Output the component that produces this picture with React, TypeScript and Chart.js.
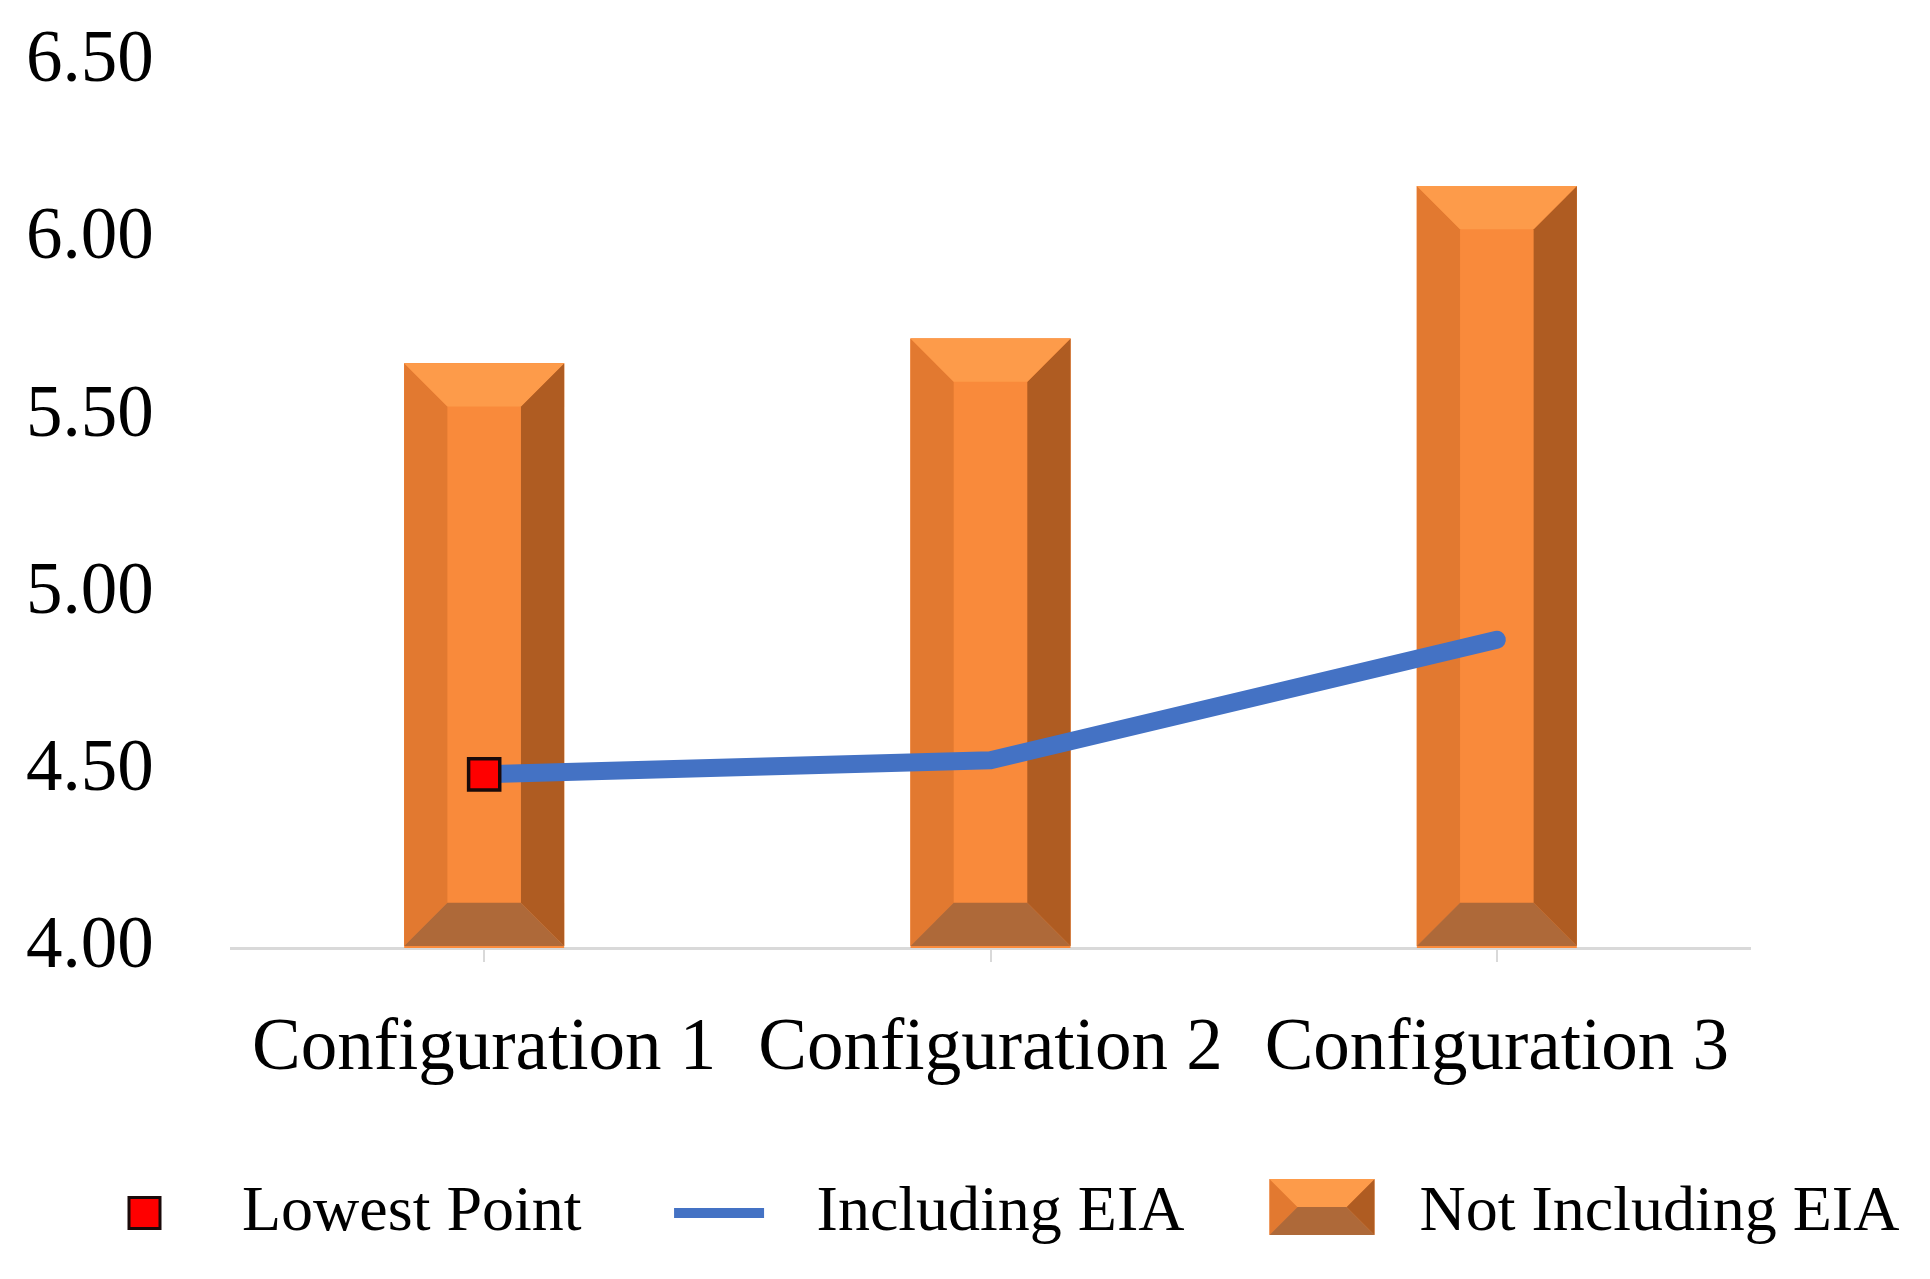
import React, { useEffect, useRef } from "react";
import { Chart, registerables } from "chart.js";

Chart.register(...registerables);

// ---- Data ----
const categories = ["Configuration 1", "Configuration 2", "Configuration 3"];
const notIncludingEIA = [5.65, 5.72, 6.15];
const includingEIA = [4.49, 4.53, 4.87];
const lowestPoint: (number | null)[] = [4.49, null, null];
const yTickValues = [4.0, 4.5, 5.0, 5.5, 6.0, 6.5];
const legendLabels = ["Lowest Point", "Including EIA", "Not Including EIA"];

// ---- Styles ----
const FONT = '"Liberation Serif", "Times New Roman", serif';
const BAR_CENTER = "#F98A3B";
const BAR_TOP = "#FD9B4A";
const BAR_LEFT = "#E27930";
const BAR_RIGHT = "#AF5C22";
const BAR_BOTTOM = "#AE6939";
const LINE_BLUE = "#4472C4";

function drawBevel(ctx: CanvasRenderingContext2D, L: number, T: number, R: number, B: number, b: number) {
  const poly = (pts: number[][], color: string) => {
    ctx.beginPath();
    ctx.moveTo(pts[0][0], pts[0][1]);
    for (let i = 1; i < pts.length; i++) ctx.lineTo(pts[i][0], pts[i][1]);
    ctx.closePath();
    ctx.fillStyle = color;
    ctx.fill();
  };
  const bh = Math.min(b, (B - T) / 2);
  poly([[L, T], [R, T], [R, B], [L, B]], BAR_CENTER);
  poly([[L, T], [L + b, T + bh], [L + b, B - bh], [L, B]], BAR_LEFT);
  poly([[R, T], [R, B], [R - b, B - bh], [R - b, T + bh]], BAR_RIGHT);
  poly([[L, T], [R, T], [R - b, T + bh], [L + b, T + bh]], BAR_TOP);
  poly([[L, B], [L + b, B - bh], [R - b, B - bh], [R, B]], BAR_BOTTOM);
}

const bevelPlugin = {
  id: "bevelBars",
  afterDatasetDraw(chart: any, args: any) {
    if (args.meta.type !== "bar") return;
    const ctx = chart.ctx as CanvasRenderingContext2D;
    const area = chart.chartArea;
    ctx.save();
    args.meta.data.forEach((el: any) => {
      const { x, y, base, width } = el.getProps(["x", "y", "base", "width"], true);
      const L = x - width / 2;
      const R = x + width / 2;
      const T = Math.max(Math.min(y, base), area.top);
      const B = Math.min(Math.max(y, base), area.bottom - 2);
      drawBevel(ctx, L, T, R, B, width * 0.27);
    });
    ctx.restore();
  },
};

const legendPlugin = {
  id: "customLegend",
  afterDraw(chart: any) {
    const ctx = chart.ctx as CanvasRenderingContext2D;
    ctx.save();
    ctx.font = `64px ${FONT}`;
    ctx.textBaseline = "middle";
    ctx.textAlign = "left";
    const cy = chart.height - 66;
    let x = 92;
    const slot = 105;
    legendLabels.forEach((label, i) => {
      const cx = x + slot / 2;
      if (i === 0) {
        const s = 31;
        ctx.fillStyle = "#FF0000";
        ctx.fillRect(cx - s / 2, cy - s / 2, s, s);
        ctx.lineWidth = 3;
        ctx.strokeStyle = "#1a0a0a";
        ctx.strokeRect(cx - s / 2, cy - s / 2, s, s);
      } else if (i === 1) {
        ctx.fillStyle = LINE_BLUE;
        ctx.fillRect(cx - 45, cy - 5, 90, 10);
      } else {
        drawBevel(ctx, cx - 52.5, cy - 34, cx + 52.5, cy + 22, 28);
      }
      const tx = x + slot + 45;
      ctx.fillStyle = "#000";
      ctx.fillText(label, tx, cy);
      x = tx + ctx.measureText(label).width + 85;
    });
    ctx.restore();
  },
};

export default function App() {
  const canvasRef = useRef<HTMLCanvasElement | null>(null);

  useEffect(() => {
    if (!canvasRef.current) return;
    const chart = new Chart(canvasRef.current, {
      data: {
        labels: categories,
        datasets: [
          {
            type: "line",
            label: legendLabels[0],
            data: lowestPoint,
            showLine: false,
            pointStyle: "rect",
            pointRadius: 22,
            pointBackgroundColor: "#FF0000",
            pointBorderColor: "#1a0a0a",
            pointBorderWidth: 3.5,
            order: 0,
          },
          {
            type: "line",
            label: legendLabels[1],
            data: includingEIA,
            borderColor: LINE_BLUE,
            borderWidth: 18,
            borderCapStyle: "round",
            borderJoinStyle: "round",
            pointRadius: 0,
            tension: 0,
            fill: false,
            order: 1,
          },
          {
            type: "bar",
            label: legendLabels[2],
            data: notIncludingEIA,
            backgroundColor: BAR_CENTER,
            borderWidth: 0,
            barPercentage: 0.316,
            categoryPercentage: 1,
            order: 2,
          },
        ],
      } as any,
      options: {
        animation: false,
        responsive: true,
        maintainAspectRatio: false,
        layout: { padding: { top: 62, right: 180, bottom: 191, left: 26 } },
        plugins: {
          legend: { display: false },
          tooltip: { enabled: false },
          title: { display: false },
        },
        scales: {
          x: {
            type: "category",
            offset: true,
            grid: {
              display: true,
              offset: false,
              drawOnChartArea: false,
              drawTicks: true,
              tickLength: 14,
              color: "#D9D9D9",
              lineWidth: 2,
            },
            border: { display: true, color: "#D9D9D9", width: 3 },
            ticks: {
              font: { family: FONT, size: 73 },
              color: "#000",
              padding: 44,
              maxRotation: 0,
              autoSkip: false,
            },
            afterFit: (s: any) => {
              s.height = 140;
            },
          },
          y: {
            type: "linear",
            min: 4,
            max: 6.5,
            grid: { display: false, drawTicks: false },
            border: { display: false },
            ticks: {
              font: { family: FONT, size: 73 },
              color: "#000",
              padding: 0,
              crossAlign: "far",
              callback: (v: any) => Number(v).toFixed(2),
            },
            afterBuildTicks: (s: any) => {
              s.ticks = yTickValues.map((v) => ({ value: v }));
            },
            afterFit: (s: any) => {
              s.width = 205;
            },
          },
        },
      } as any,
      plugins: [bevelPlugin, legendPlugin],
    });
    return () => chart.destroy();
  }, []);

  return (
    <div style={{ position: "fixed", left: 0, top: 0, width: 1930, height: 1279, background: "#fff" }}>
      <canvas ref={canvasRef} />
    </div>
  );
}
